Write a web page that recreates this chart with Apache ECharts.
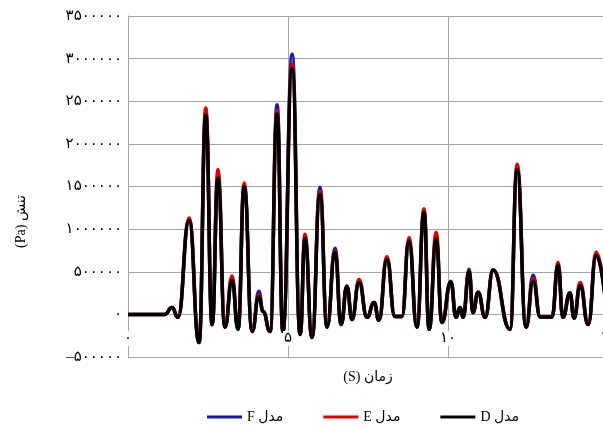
<!DOCTYPE html>
<html><head><meta charset="utf-8">
<script src="https://cdn.jsdelivr.net/npm/echarts@6/dist/echarts.min.js"></script>
<style>html,body{margin:0;padding:0;background:#fff}#c{width:603px;height:428px}</style>
</head><body><div id="c"></div>
<script>
// time (s)
const timeS = [0, 0.6, 1.15, 1.375, 1.56, 1.91, 2.22, 2.43, 2.63, 2.81, 3.03, 3.25, 3.44, 3.63, 3.88, 4.09, 4.22, 4.44,
  4.66, 4.84, 5.13, 5.38, 5.53, 5.75, 6.0, 6.22, 6.47, 6.66, 6.84, 7.0, 7.22, 7.47, 7.69, 7.84, 8.09, 8.34, 8.56,
  8.78, 9.03, 9.25, 9.41, 9.63, 9.81, 10.09, 10.25, 10.375, 10.47, 10.66, 10.78, 10.94, 11.16, 11.41, 11.94,
  12.16, 12.44, 12.66, 12.88, 13.25, 13.44, 13.59, 13.81, 13.94, 14.13, 14.38, 14.63, 15.0];
// stress (Pa)
const modelD = [0, 0, 0, 80000, -35000, 1100000, -330000, 2340000, -120000, 1600000, -150000, 400000, -175000, 1500000, -200000, 210000, 35000, -200000,
  2350000, -200000, 2880000, -235000, 890000, -270000, 1410000, -150000, 730000, -120000, 330000, -60000, 375000, -35000, 140000, -70000, 645000, -25000, -25000,
  860000, -150000, 1200000, -175000, 880000, -95000, 380000, -35000, 80000, -35000, 500000, 20000, 260000, -35000, 520000, -175000,
  1700000, -150000, 390000, -30000, -30000, 575000, -35000, 250000, -45000, 340000, -120000, 690000, -150000];
const modelE = [0, 0, 0, 80000, -35000, 1130000, -330000, 2420000, -120000, 1700000, -150000, 450000, -175000, 1540000, -200000, 230000, 35000, -200000,
  2390000, -200000, 2930000, -235000, 940000, -270000, 1440000, -150000, 740000, -120000, 330000, -60000, 410000, -35000, 140000, -70000, 680000, -25000, -25000,
  900000, -150000, 1240000, -175000, 960000, -95000, 380000, -35000, 80000, -35000, 510000, 20000, 260000, -35000, 520000, -175000,
  1760000, -150000, 420000, -30000, -30000, 610000, -35000, 250000, -45000, 375000, -120000, 730000, -150000];
const modelF = [0, 0, 0, 80000, -35000, 1110000, -330000, 2360000, -120000, 1620000, -150000, 400000, -175000, 1500000, -200000, 270000, 35000, -200000,
  2460000, -200000, 3050000, -235000, 880000, -270000, 1490000, -150000, 775000, -120000, 330000, -60000, 380000, -35000, 140000, -70000, 650000, -25000, -25000,
  860000, -150000, 1200000, -175000, 890000, -95000, 390000, -35000, 80000, -35000, 530000, 20000, 260000, -35000, 520000, -175000,
  1700000, -150000, 460000, -30000, -30000, 580000, -35000, 250000, -45000, 345000, -120000, 700000, -150000];
const seriesNames = ['مدل F', 'مدل E', 'مدل D'];
const seriesColors = ['#1a1aa6', '#e00000', '#000000'];
const xAxisTitle = 'زمان (S)';
const yAxisTitle = 'تنش (Pa)';
const faDigits = ['۰','۱','۲','۳','۴','۵','۶','۷','۸','۹'];

const rtl = s => '\u2067' + s + '\u2069';
const toFa = v => (v < 0 ? '–' : '') + String(Math.abs(v)).replace(/\d/g, d => faDigits[+d]);
const pairs = arr => timeS.map((t, i) => [t, arr[i]]);
const FONT = 'Liberation Serif, DejaVu Sans, serif';
const grey = '#a6a6a6';

const chart = echarts.init(document.getElementById('c'), null, {renderer: 'canvas'});
const values = [modelF, modelE, modelD];
chart.setOption({
  animation: false,
  backgroundColor: '#fff',
  textStyle: {fontFamily: FONT},
  grid: {left: 128, top: 16, width: 480, height: 341, containLabel: false, outerBoundsMode: 'none'},
  legend: {
    data: seriesNames, left: 202, top: 405, icon: 'rect', itemWidth: 35, itemHeight: 3, itemGap: 40,
    formatter: n => rtl(n),
    textStyle: {fontFamily: FONT, fontSize: 14, color: '#000'}
  },
  xAxis: [{
    type: 'value', min: 0, max: 15, interval: 5,
    axisLine: {show: false}, axisTick: {show: false}, axisLabel: {show: false},
    splitLine: {show: true, lineStyle: {color: grey, width: 1}},
    name: rtl(xAxisTitle), nameLocation: 'middle', nameGap: 13,
    nameTextStyle: {fontFamily: FONT, fontSize: 14, color: '#000', verticalAlign: 'top'}
  }, {
    type: 'value', min: 0, max: 15, interval: 5, position: 'bottom', z: 5,
    axisLine: {show: false, onZero: false}, axisTick: {show: false}, splitLine: {show: false},
    axisLabel: {show: true, margin: -26, formatter: toFa, showMaxLabel: true, showMinLabel: true,
      fontFamily: FONT, fontSize: 15, color: '#000', backgroundColor: '#fff', padding: [0, 1]}
  }],
  yAxis: {
    type: 'value', min: -500000, max: 3500000, interval: 500000,
    axisLine: {show: true, lineStyle: {color: grey}}, axisTick: {show: false},
    splitLine: {show: true, lineStyle: {color: grey, width: 1}},
    axisLabel: {formatter: toFa, margin: 6, fontFamily: FONT, fontSize: 15, color: '#000'},
    name: rtl(yAxisTitle), nameLocation: 'middle', nameRotate: 90, nameGap: 100,
    nameTextStyle: {fontFamily: FONT, fontSize: 14, color: '#000', padding: [0, 70, 0, 0]}
  },
  series: seriesNames.map((n, i) => ({
    name: n, type: 'line', xAxisIndex: 0, data: pairs(values[i]), smooth: 0.5, smoothMonotone: 'x',
    showSymbol: false, symbol: 'none', color: seriesColors[i],
    lineStyle: {width: 3.5, color: seriesColors[i]}, z: 2 + i
  }))
});
</script></body></html>
